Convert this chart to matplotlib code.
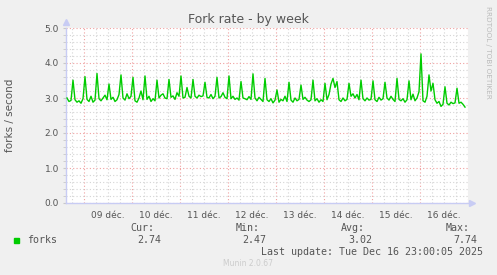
import numpy as np
import pandas as pd
import matplotlib
matplotlib.use('Agg')
import matplotlib.pyplot as plt
import matplotlib.dates as mdates
from matplotlib.ticker import MultipleLocator, FormatStrFormatter

# forks / second, one point per hour from 08 déc. 15:30
forks = [
    3.00, 2.90, 2.93,
    3.51, 2.95, 2.88, 2.92, 2.85, 2.98,
    3.61, 2.96, 2.90, 3.05, 2.88, 2.94,
    3.70, 2.98, 2.92, 3.00, 3.08, 2.95,
    3.40, 2.96, 3.02, 2.90, 2.95, 3.10,
    3.66, 3.00, 2.94, 3.12, 2.98, 3.05,
    3.59, 2.92, 2.88, 3.00, 3.20, 2.95,
    3.63, 2.96, 3.05, 2.90, 2.98, 2.92,
    3.51, 3.00, 3.08, 3.12, 3.00, 2.98,
    3.53, 3.02, 3.06, 2.96, 3.15, 3.05,
    3.63, 3.00, 3.02, 3.30, 3.05, 3.00,
    3.53, 3.05, 3.00, 3.08, 3.04, 3.06,
    3.45, 3.02, 3.00, 3.10, 2.98, 3.05,
    3.59, 3.00, 3.04, 3.15, 3.02, 2.98,
    3.63, 2.98, 3.05, 2.96, 3.00, 2.94,
    3.47, 3.00, 2.98, 2.95, 3.04, 2.96,
    3.69, 3.00, 2.92, 3.02, 2.96, 2.90,
    3.56, 2.95, 2.90, 2.98, 2.86, 2.94,
    3.23, 2.88, 2.96, 2.92, 3.05, 2.90,
    3.45, 2.94, 2.88, 3.00, 2.92, 2.96,
    3.37, 2.96, 3.02, 2.94, 2.90, 2.95,
    3.51, 2.92, 2.98, 2.88, 2.95, 2.90,
    3.42, 2.95, 3.10, 3.40, 3.56, 3.30,
    3.47, 2.95, 2.90, 3.00, 2.92, 2.96,
    3.42, 3.05, 3.12, 3.00, 3.10, 2.95,
    3.51, 2.98, 2.92, 3.00, 2.94, 2.96,
    3.49, 2.95, 2.90, 3.02, 2.94, 2.98,
    3.45, 3.00, 2.94, 3.05, 2.96, 2.90,
    3.56, 2.96, 2.92, 2.98, 2.88, 2.95,
    3.49, 2.95, 3.11, 2.92, 3.00, 3.18,
    4.26, 2.92, 2.88, 3.05, 3.66, 3.20,
    3.42, 2.95, 2.85, 2.90, 2.76, 2.82,
    3.32, 2.85, 2.80, 2.88, 2.84, 2.86,
    3.28, 2.85, 2.88, 2.82, 2.74,
]
day_labels = ['09 déc.', '10 déc.', '11 déc.', '12 déc.',
              '13 déc.', '14 déc.', '15 déc.', '16 déc.']
stat_names = ['Cur:', 'Min:', 'Avg:', 'Max:']
stat_values = ['2.74', '2.47', '3.02', '7.74']

times = pd.date_range('2025-12-08 15:30', periods=len(forks), freq='h')

W, H = 497, 275
fig = plt.figure(figsize=(W / 100, H / 100), dpi=100, facecolor='#F0F0F0')
ax = fig.add_axes([66 / W, 1 - 203 / H, (468 - 66) / W, (203 - 28) / H])
ax.set_facecolor('white')

ax.plot(times, forks, color='#00CC00', lw=1.0, zorder=3)

ax.set_xlim(pd.Timestamp('2025-12-08 15:00'), pd.Timestamp('2025-12-17 00:00'))
ax.set_ylim(0, 5)

# grille
ax.xaxis.set_major_locator(mdates.DayLocator())
ax.xaxis.set_minor_locator(mdates.HourLocator(byhour=[6, 12, 18]))
ax.yaxis.set_major_locator(MultipleLocator(1.0))
ax.yaxis.set_minor_locator(MultipleLocator(0.2))
ax.yaxis.set_major_formatter(FormatStrFormatter('%.1f'))
ax.set_xticklabels([])
ax.grid(True, which='minor', color='#D4D4D4', lw=0.8, ls=(0, (1, 2)), zorder=1)
ax.grid(True, which='major', color='#F0A0A0', lw=0.8, ls=(0, (1, 2)), zorder=2)
ax.tick_params(axis='x', which='both', length=0)
ax.tick_params(axis='y', which='both', length=2, color='#C8C8C8', labelsize=6.5,
               labelcolor='#555555', pad=3)
ax.set_axisbelow(True)

for s in ['top', 'right']:
    ax.spines[s].set_visible(False)
for s in ['left', 'bottom']:
    ax.spines[s].set_color('#C8CCF4')
    ax.spines[s].set_linewidth(1.0)
ax.plot([0], [1.035], marker='^', ms=4, color='#C8CCF4', transform=ax.transAxes, clip_on=False)
ax.plot([1.01], [0], marker='>', ms=4, color='#C8CCF4', transform=ax.transAxes, clip_on=False)

# étiquettes des jours, au milieu de chaque journée
for i, lab in enumerate(day_labels):
    t = pd.Timestamp('2025-12-09 12:00') + pd.Timedelta(days=i)
    ax.text(t, -0.045, lab, transform=ax.get_xaxis_transform(), ha='center', va='top',
            fontsize=6.5, color='#555555')

fig.text(248 / W, 1 - 19 / H, 'Fork rate - by week', ha='center', va='center',
         fontsize=9, color='#555555')
fig.text(10 / W, 1 - 115 / H, 'forks / second', rotation=90, ha='center', va='center',
         fontsize=7.5, color='#555555')
fig.text(488 / W, 1 - 52 / H, 'RRDTOOL / TOBI OETIKER', rotation=270, ha='center',
         va='center', fontsize=5.2, color='#BBBBBB')

# légende
mono = 'DejaVu Sans Mono'
fig.patches.append(plt.Rectangle((14 / W, 1 - 243 / H), 5 / W, 5 / H, color='#00CC00',
                                 transform=fig.transFigure))
fig.text(27 / W, 1 - 240 / H, 'forks', family=mono, fontsize=7.2, color='#555555', va='center')
name_right = [154, 260, 365, 470]
val_right = [161, 266, 372, 477]
for nm, v, xn, xv in zip(stat_names, stat_values, name_right, val_right):
    fig.text(xn / W, 1 - 228 / H, nm, family=mono, fontsize=7.2, color='#555555',
             ha='right', va='center')
    fig.text(xv / W, 1 - 240 / H, v, family=mono, fontsize=7.2, color='#555555',
             ha='right', va='center')
fig.text(483 / W, 1 - 252 / H, 'Last update: Tue Dec 16 23:00:05 2025', family=mono,
         fontsize=7.2, color='#555555', ha='right', va='center')
fig.text(248 / W, 1 - 264 / H, 'Munin 2.0.67', fontsize=5.5, color='#CCCCCC',
         ha='center', va='center')

fig.savefig('out.png', dpi=100, facecolor=fig.get_facecolor())
